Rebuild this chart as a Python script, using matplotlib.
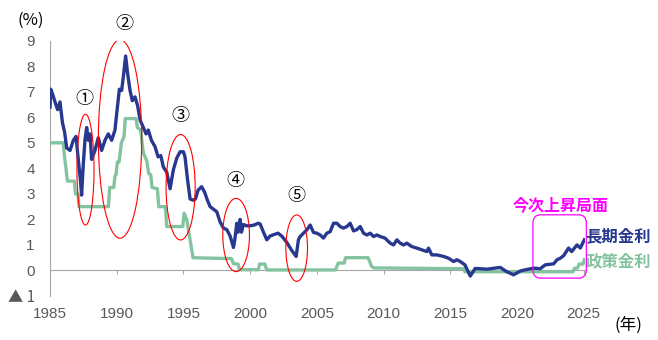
import matplotlib
matplotlib.use("Agg")
import matplotlib.pyplot as plt
from matplotlib.patches import Ellipse, FancyBboxPatch
import numpy as np

#Data (year, %)
long_years = [1985.0, 1985.05, 1985.2, 1985.375, 1985.57, 1985.75, 1985.93, 1986.1, 1986.25, 1986.5,
              1986.75, 1986.95, 1987.1, 1987.25, 1987.37, 1987.5, 1987.62, 1987.75, 1987.87, 1988.0,
              1988.12, 1988.37, 1988.62, 1988.87, 1989.12, 1989.37, 1989.62, 1989.87, 1990.0, 1990.2,
              1990.37, 1990.5, 1990.67, 1990.82, 1991.0, 1991.17, 1991.37, 1991.57, 1991.75, 1992.0,
              1992.2, 1992.37, 1992.6, 1992.87, 1993.1, 1993.3, 1993.5, 1993.75, 1994.0, 1994.25,
              1994.5, 1994.75, 1995.0, 1995.12, 1995.3, 1995.5, 1995.75, 1995.9, 1996.1, 1996.37,
              1996.6, 1996.8, 1997.0, 1997.25, 1997.5, 1997.75, 1998.0, 1998.25, 1998.5, 1998.75,
              1998.85, 1999.0, 1999.1, 1999.25, 1999.35, 1999.5, 1999.75, 2000.0, 2000.3, 2000.6,
              2000.75, 2001.0, 2001.25, 2001.5, 2001.75, 2002.1, 2002.4, 2002.75, 2003.1, 2003.45,
              2003.62, 2003.75, 2004.0, 2004.25, 2004.5, 2004.75, 2005.0, 2005.25, 2005.5, 2005.75,
              2006.0, 2006.25, 2006.5, 2006.75, 2007.0, 2007.25, 2007.5, 2007.75, 2008.0, 2008.25,
              2008.5, 2008.75, 2009.0, 2009.25, 2009.5, 2009.75, 2010.1, 2010.5, 2010.75, 2011.0,
              2011.25, 2011.5, 2011.75, 2012.1, 2012.5, 2012.87, 2013.25, 2013.37, 2013.62, 2014.0,
              2014.5, 2014.87, 2015.25, 2015.5, 2015.75, 2016.1, 2016.5, 2016.87, 2017.75, 2018.75,
              2019.2, 2019.75, 2020.25, 2020.75, 2021.25, 2021.75, 2022.12, 2022.75, 2023.0, 2023.25,
              2023.5, 2023.87, 2024.1, 2024.5, 2024.75, 2025.05]
long_rate = [6.4, 7.1, 6.9, 6.6, 6.3, 6.6, 5.8, 5.4, 4.8, 4.7,
             5.1, 5.25, 4.45, 3.7, 2.95, 4.2, 5.1, 5.6, 5.1, 5.35,
             4.35, 4.7, 5.2, 4.7, 5.1, 5.35, 5.1, 5.5, 6.15, 7.1,
             7.05, 7.6, 8.4, 7.7, 7.05, 6.65, 6.8, 6.45, 5.9, 5.6,
             5.35, 5.5, 5.1, 4.85, 4.45, 4.5, 4.05, 3.85, 3.2, 3.95,
             4.4, 4.65, 4.65, 4.45, 3.6, 2.8, 2.75, 2.8, 3.15, 3.28,
             3.05, 2.75, 2.5, 2.4, 2.3, 1.9, 1.66, 1.6, 1.35, 0.9,
             1.2, 1.85, 1.5, 2.0, 1.5, 1.8, 1.75, 1.75, 1.78, 1.85,
             1.82, 1.5, 1.2, 1.35, 1.4, 1.46, 1.33, 1.1, 0.8, 0.55,
             1.2, 1.33, 1.46, 1.59, 1.78, 1.49, 1.46, 1.39, 1.27, 1.46,
             1.52, 1.85, 1.85, 1.72, 1.66, 1.72, 1.85, 1.55, 1.6, 1.72,
             1.46, 1.39, 1.46, 1.33, 1.39, 1.33, 1.27, 1.07, 1.0, 1.2,
             1.07, 1.0, 1.07, 0.94, 0.875, 0.81, 0.74, 0.875, 0.61, 0.61,
             0.55, 0.48, 0.35, 0.42, 0.35, 0.22, -0.22, 0.08, 0.05, 0.12,
             -0.04, -0.17, -0.02, 0.04, 0.09, 0.07, 0.22, 0.26, 0.42, 0.48,
             0.58, 0.88, 0.74, 1.0, 0.88, 1.2]

policy_years = [1985.0, 1986.0, 1986.08, 1986.2, 1986.3, 1986.83, 1986.9, 1987.1, 1987.17, 1989.38,
                1989.47, 1989.78, 1989.87, 1989.95, 1990.05, 1990.18, 1990.35, 1990.55, 1990.64, 1991.45,
                1991.55, 1991.8, 1991.9, 1992.0, 1992.25, 1992.4, 1992.55, 1992.65, 1993.05, 1993.15,
                1993.65, 1993.75, 1994.95, 1995.05, 1995.25, 1995.5, 1995.72, 1998.0, 1998.6, 1998.75,
                1999.1, 1999.2, 2000.62, 2000.7, 2001.1, 2001.25, 2006.4, 2006.6, 2007.05, 2007.15,
                2008.85, 2009.1, 2009.3, 2013.3, 2016.0, 2016.1, 2024.2, 2024.3, 2024.55, 2024.65,
                2024.95, 2025.05]
policy_rate = [5.0, 5.0, 4.5, 4.0, 3.5, 3.5, 3.0, 3.0, 2.5, 2.5,
               3.25, 3.25, 3.7, 3.75, 4.25, 4.25, 5.0, 5.25, 5.95, 5.95,
               5.6, 5.5, 5.0, 4.6, 4.3, 3.8, 3.75, 3.25, 3.2, 2.5,
               2.5, 1.72, 1.72, 2.24, 2.0, 1.2, 0.5, 0.47, 0.47, 0.27,
               0.25, 0.03, 0.03, 0.25, 0.25, 0.02, 0.02, 0.29, 0.29, 0.5,
               0.5, 0.16, 0.1, 0.08, 0.07, -0.05, -0.05, 0.08, 0.1, 0.25,
               0.25, 0.42]

year_ticks = [1985, 1990, 1995, 2000, 2005, 2010, 2015, 2020, 2025]
rate_ticks = [-1, 0, 1, 2, 3, 4, 5, 6, 7, 8, 9]
rate_labels = ["▲ 1", "0", "1", "2", "3", "4", "5", "6", "7", "8", "9"]

#Annotated episodes: (label, x centre, y centre, width, height, label x, label y)
episodes = [("①", 1987.66, 3.95, 1.28, 4.34, 1987.6, 6.7),
            ("②", 1990.25, 5.15, 3.25, 7.77, 1990.58, 9.64),
            ("③", 1994.79, 3.26, 2.18, 4.13, 1994.78, 6.07),
            ("④", 1998.95, 1.39, 2.0, 2.87, 1998.93, 3.52),
            ("⑤", 2003.49, 0.875, 1.62, 2.6, 2003.5, 2.93)]

navy = "#28388f"
mint = "#84c3a0"
grey = "#595959"
cjk = ["Noto Sans CJK JP", "DejaVu Sans"]
num = ["Liberation Sans", "DejaVu Sans"]

fig = plt.figure(figsize=(6.58, 3.40), dpi=100)
ax = fig.add_axes([50/658, 44/340, 535/658, 255.3/340])

ax.plot(policy_years, policy_rate, color=mint, lw=2.4, solid_joinstyle="round", zorder=3)
ax.plot(long_years, long_rate, color=navy, lw=2.4, solid_joinstyle="round", zorder=4)

ax.set_xlim(1985, 2025.1)
ax.set_ylim(-1, 9)

for s in ["top", "right"]:
    ax.spines[s].set_visible(False)
ax.spines["left"].set_color("#a6a6a6")
ax.spines["bottom"].set_color("#a6a6a6")
ax.spines["bottom"].set_position(("data", 0))

ax.set_xticks(year_ticks)
ax.set_xticklabels([str(y) for y in year_ticks], fontfamily=num, fontsize=11, color=grey)
ax.tick_params(axis="x", direction="out", length=3, color="#a6a6a6", pad=23)
ax.set_yticks(rate_ticks)
ax.set_yticklabels(rate_labels, fontfamily=num, fontsize=11, color=grey)
ax.tick_params(axis="y", length=0, pad=11)
ax.get_yticklabels()[0].set_fontfamily(["Noto Sans CJK JP", "Liberation Sans"])

for lab, xc, yc, w, h, lx, ly in episodes:
    ax.add_patch(Ellipse((xc, yc), w, h, fill=False, ec="red", lw=0.8, zorder=5))
    ax.text(lx, ly, lab, ha="center", va="center", fontsize=13, family=cjk, clip_on=False)

#current rising phase box
ax.add_patch(FancyBboxPatch((2021.2, -0.3), 4.0, 2.48, boxstyle="round,pad=0,rounding_size=0.6",
                            mutation_aspect=0.52, fill=False, ec="#ff00ff", lw=0.9, clip_on=False, zorder=5))
ax.text(2023.25, 2.57, "今次上昇局面", ha="center", va="center", fontsize=11.5, color="#ff00ff",
        family=cjk, fontweight="bold", clip_on=False)

ax.text(2025.15, 1.33, "長期金利", ha="left", va="center", fontsize=11.8, color=navy,
        family=cjk, fontweight="bold", clip_on=False)
ax.text(2025.15, 0.35, "政策金利", ha="left", va="center", fontsize=11.8, color=mint,
        family=cjk, fontweight="bold", clip_on=False)

fig.text(31/658, 1 - 20/340, "(%)", ha="center", va="center", fontsize=12, family=cjk)
fig.text(628/658, 1 - 325/340, "(年)", ha="center", va="center", fontsize=12, family=cjk)

fig.savefig("out.png", dpi=100)
